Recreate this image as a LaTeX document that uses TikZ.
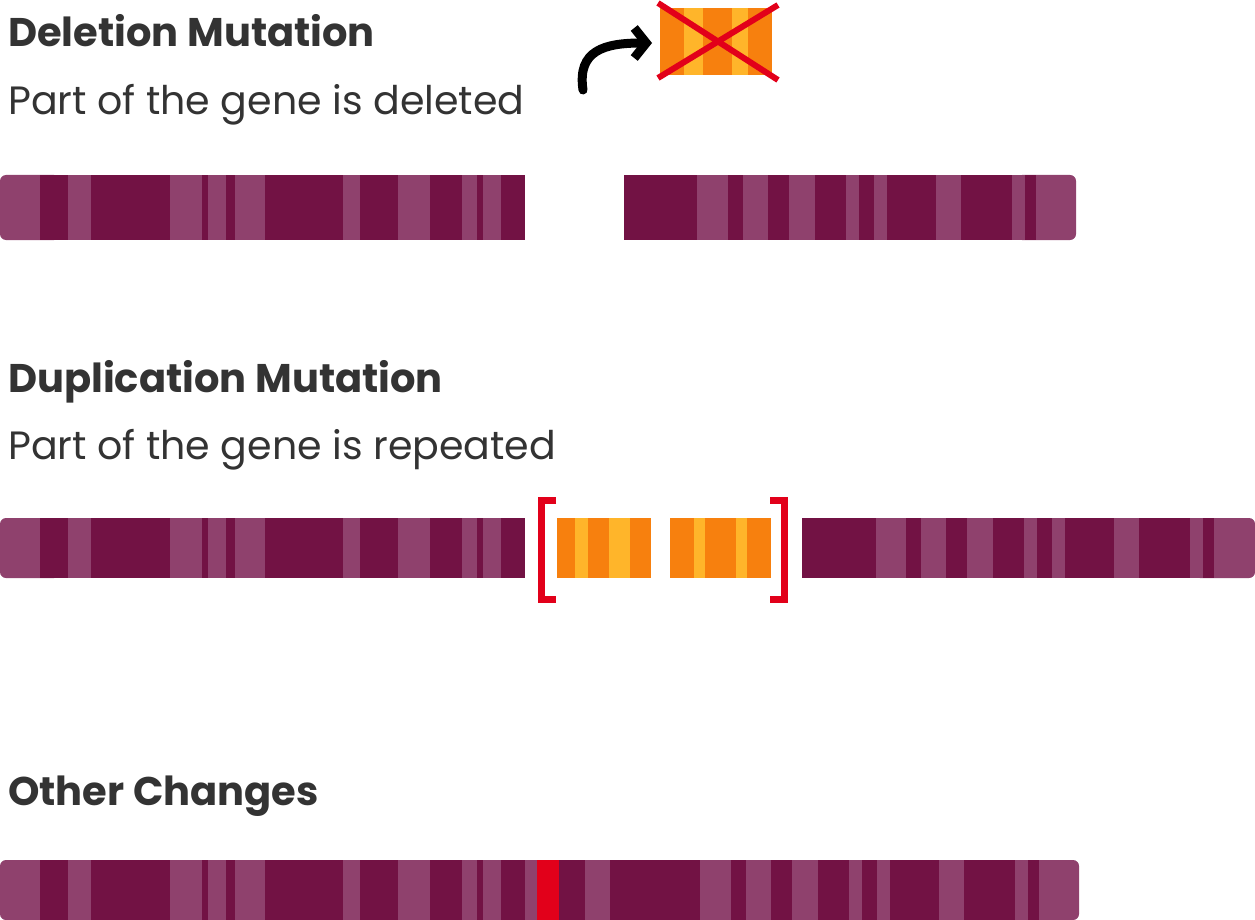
\documentclass[tikz,border=0pt]{standalone}
\usepackage{fontspec}
\setmainfont{Poppins}
\usetikzlibrary{arrows.meta}
\definecolor{genedark}{HTML}{721244}
\definecolor{genelight}{HTML}{8F416D}
\definecolor{exonorange}{HTML}{F7800E}
\definecolor{exonyellow}{HTML}{FFB52A}
\definecolor{mutred}{HTML}{E2001A}
\definecolor{textgray}{HTML}{333333}
\begin{document}
\begin{tikzpicture}[
			x=1pt, y=-1pt,
			title/.style={
				anchor=base west,
				inner sep=0pt,
				text=textgray,
				font=\fontsize{40}{40}\selectfont\bfseries
			},
			desc/.style={
				anchor=base west,
				inner sep=0pt,
				text=textgray,
				font=\fontsize{39.5}{40}\selectfont
			},
			band/.style={
				fill=genelight
			},
			bracket/.style={
				draw=mutred,
				line width=7pt
			}
			]
			
			\useasboundingbox (0,0) rectangle (1255,920);
			
			% Descriptions
			
			\node [title] (T0) at (8,47) {Deletion Mutation};
			\node [desc] (D0) at (8,115) {Part of the gene is deleted};
			\node [title] (T1) at (8,392) {Duplication Mutation};
			\node [desc] (D1) at (8,459) {Part of the gene is repeated};
			\node [title] (T2) at (8,805) {Other Changes};
			
			% Deletion
			
			\fill [genelight, rounded corners=6] (0,175) rectangle (60,240);
			\fill [genedark] (40,175) rectangle (525,240);
			\foreach \a/\b in {68/91, 170/202, 208/226, 235/265, 343/360, 398/430, 462/477, 483/501}
				\fill [band] (\a,175) rectangle (\b,240);
			\fill [genelight, rounded corners=6] (1016,175) rectangle (1076,240);
			\fill [genedark] (624,175) rectangle (1036,240);
			\foreach \a/\b in {697/728, 743/768, 789/815, 846/859, 874/887, 936/961, 1012/1025}
				\fill [band] (\a,175) rectangle (\b,240);
			
			\fill [exonorange] (660,8) rectangle (772,75);
			\foreach \a/\b in {684/703, 732/748}
				\fill [exonyellow] (\a,8) rectangle (\b,75);
			\draw [mutred, line width=6pt] (658,3) -- (778,80);
			\draw [mutred, line width=6pt] (658,78) -- (778,5);
			\coordinate (arrowfrom) at (583,90);
			\coordinate (arrowto) at (652,43);
			\draw [line width=9pt, line cap=round, -{Straight Barb[length=12pt,width=30pt]}]
				(arrowfrom) .. controls (577,50) and (605,43) .. (arrowto);
			
			% Duplication
			
			\fill [genelight, rounded corners=6] (0,518) rectangle (60,578);
			\fill [genedark] (40,518) rectangle (525,578);
			\foreach \a/\b in {68/91, 170/202, 208/226, 235/265, 343/360, 398/430, 462/477, 483/501}
				\fill [band] (\a,518) rectangle (\b,578);
			\fill [genelight, rounded corners=6] (1194,518) rectangle (1255,578);
			\fill [genedark] (802,518) rectangle (1214,578);
			\foreach \a/\b in {876/906, 921/946, 967/993, 1024/1037, 1052/1065, 1114/1139, 1190/1203}
				\fill [band] (\a,518) rectangle (\b,578);
			
			\fill [exonorange] (557,518) rectangle (651,578);
			\fill [exonorange] (670,518) rectangle (771,578);
			\foreach \a/\b in {575/588, 609/630, 694/705, 736/747}
				\fill [exonyellow] (\a,518) rectangle (\b,578);
			\draw [bracket] (556,500) -- (541.5,500) -- (541.5,599) -- (556,599);
			\draw [bracket] (770,500) -- (784.5,500) -- (784.5,599) -- (770,599);
			
			% Other changes
			
			\fill [genelight, rounded corners=6] (0,860) rectangle (60,920);
			\fill [genelight, rounded corners=6] (1019,860) rectangle (1079,920);
			\fill [genedark] (40,860) rectangle (1039,920);
			\foreach \a/\b in {68/91, 170/202, 208/226, 235/265, 343/360, 398/430, 462/477, 483/501, 525/537, 585/610, 700/731, 746/771, 792/818, 849/862, 877/890, 939/964, 1015/1028}
				\fill [band] (\a,860) rectangle (\b,920);
			\fill [mutred] (537,860) rectangle (559,920);
			
		\end{tikzpicture}
\end{document}
